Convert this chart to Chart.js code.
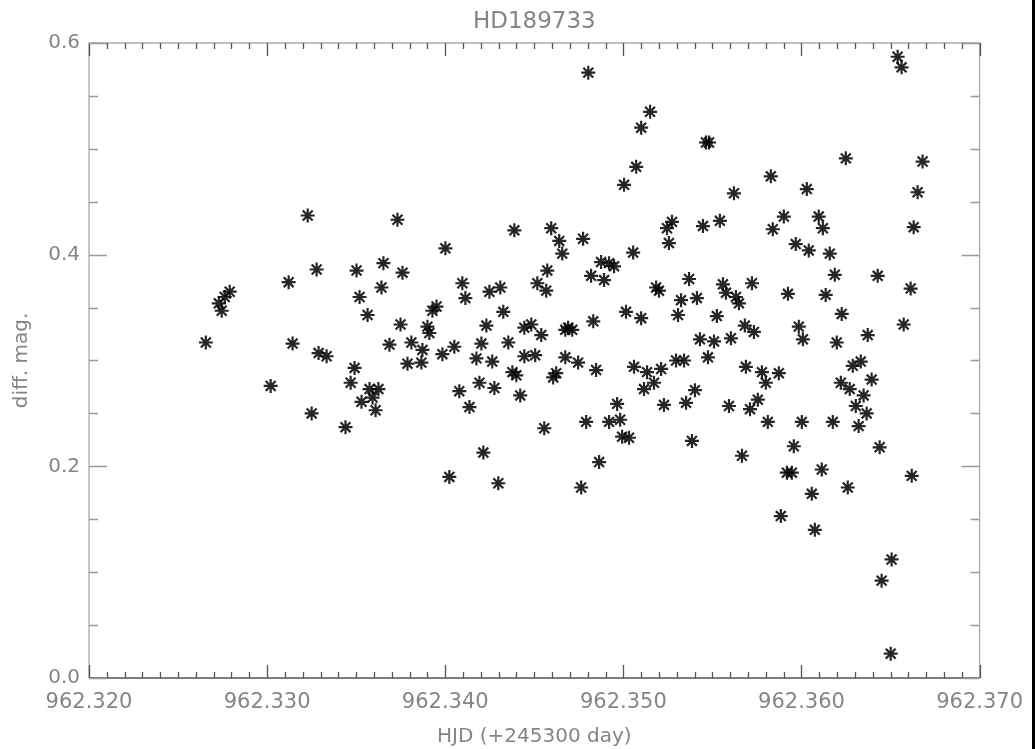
<!DOCTYPE html>
<html>
<head>
<meta charset="utf-8">
<script src="https://cdn.jsdelivr.net/npm/chart.js@4.4.0/dist/chart.umd.min.js"></script>
<style>
  html, body { margin: 0; padding: 0; background: #fff; }
  #wrap { width: 1035px; height: 749px; position: relative; }
</style>
</head>
<body>
<div id="wrap"><canvas id="lightCurve" width="1035" height="749"></canvas></div>
<script>
// HJD - 2453000 (day) and differential magnitude
const hjd = [
  962.32656, 962.32729, 962.32745, 962.32762, 962.32790, 962.33020, 962.33121, 962.33143, 962.33228, 962.33250,
  962.33278, 962.33289, 962.33334, 962.33440, 962.33469, 962.33491, 962.33502, 962.33519, 962.33530, 962.33564,
  962.33575, 962.33592, 962.33609, 962.33625, 962.33642, 962.33653, 962.33687, 962.33732, 962.33749, 962.33760,
  962.33788, 962.33810, 962.33866, 962.33872, 962.33900, 962.33911, 962.33928, 962.33951, 962.33984, 962.34001,
  962.34023, 962.34051, 962.34079, 962.34096, 962.34113, 962.34136, 962.34175, 962.34192, 962.34203, 962.34214,
  962.34231, 962.34248, 962.34264, 962.34276, 962.34298, 962.34309, 962.34326, 962.34354, 962.34377, 962.34399,
  962.34388, 962.34421, 962.34444, 962.34444, 962.34483, 962.34505, 962.34517, 962.34539, 962.34556, 962.34567,
  962.34573, 962.34595, 962.34606, 962.34623, 962.34640, 962.34657, 962.34674, 962.34690, 962.34713, 962.34674,
  962.34746, 962.34763, 962.34774, 962.34791, 962.34803, 962.34819, 962.34831, 962.34847, 962.34864, 962.34875,
  962.34892, 962.34920, 962.34948, 962.34920, 962.34965, 962.34982, 962.34993, 962.35032, 962.35004, 962.35015,
  962.35055, 962.35060, 962.35072, 962.35100, 962.35100, 962.35116, 962.35133, 962.35150, 962.35172, 962.35184,
  962.35200, 962.35212, 962.35228, 962.35245, 962.35256, 962.35273, 962.35296, 962.35307, 962.35324, 962.35341,
  962.35352, 962.35369, 962.35385, 962.35402, 962.35413, 962.35430, 962.35447, 962.35464, 962.35481, 962.35475,
  962.35509, 962.35525, 962.35542, 962.35559, 962.35576, 962.35593, 962.35604, 962.35621, 962.35632, 962.35649,
  962.35666, 962.35682, 962.35688, 962.35711, 962.35722, 962.35733, 962.35755, 962.35778, 962.35800, 962.35811,
  962.35828, 962.35839, 962.35873, 962.35884, 962.35901, 962.35918, 962.35946, 962.35924, 962.35957, 962.35968,
  962.35985, 962.36002, 962.36008, 962.36030, 962.36041, 962.36058, 962.36075, 962.36097, 962.36114, 962.36120,
  962.36136, 962.36159, 962.36176, 962.36187, 962.36198, 962.36221, 962.36226, 962.36249, 962.36260, 962.36271,
  962.36288, 962.36305, 962.36321, 962.36333, 962.36349, 962.36366, 962.36372, 962.36394, 962.36428, 962.36439,
  962.36450, 962.36501, 962.36506, 962.36540, 962.36562, 962.36574, 962.36613, 962.36619, 962.36630, 962.36652,
  962.36680
]
const diffMag = [
  0.317, 0.354, 0.347, 0.360, 0.365, 0.276, 0.374, 0.316, 0.437, 0.250,
  0.386, 0.307, 0.304, 0.237, 0.279, 0.293, 0.385, 0.360, 0.261, 0.343,
  0.273, 0.265, 0.253, 0.273, 0.369, 0.392, 0.315, 0.433, 0.334, 0.383,
  0.297, 0.317, 0.298, 0.310, 0.332, 0.326, 0.347, 0.351, 0.306, 0.406,
  0.190, 0.313, 0.271, 0.373, 0.359, 0.256, 0.302, 0.279, 0.316, 0.213,
  0.333, 0.365, 0.299, 0.274, 0.184, 0.369, 0.346, 0.317, 0.289, 0.286,
  0.423, 0.267, 0.331, 0.304, 0.334, 0.305, 0.373, 0.324, 0.236, 0.366,
  0.385, 0.425, 0.284, 0.288, 0.413, 0.401, 0.303, 0.331, 0.329, 0.329,
  0.298, 0.180, 0.415, 0.242, 0.572, 0.380, 0.337, 0.291, 0.204, 0.393,
  0.376, 0.392, 0.389, 0.242, 0.259, 0.244, 0.228, 0.227, 0.466, 0.346,
  0.402, 0.294, 0.483, 0.340, 0.520, 0.273, 0.289, 0.535, 0.279, 0.369,
  0.366, 0.292, 0.258, 0.425, 0.411, 0.431, 0.300, 0.343, 0.357, 0.300,
  0.260, 0.377, 0.224, 0.272, 0.359, 0.320, 0.427, 0.506, 0.506, 0.303,
  0.318, 0.342, 0.432, 0.372, 0.364, 0.257, 0.321, 0.458, 0.360, 0.354,
  0.210, 0.333, 0.294, 0.254, 0.373, 0.327, 0.263, 0.289, 0.279, 0.242,
  0.474, 0.424, 0.288, 0.153, 0.436, 0.194, 0.194, 0.363, 0.219, 0.410,
  0.332, 0.242, 0.320, 0.462, 0.404, 0.174, 0.140, 0.436, 0.197, 0.425,
  0.362, 0.401, 0.242, 0.381, 0.317, 0.279, 0.344, 0.491, 0.180, 0.273,
  0.295, 0.257, 0.238, 0.299, 0.267, 0.250, 0.324, 0.282, 0.380, 0.218,
  0.092, 0.023, 0.112, 0.587, 0.577, 0.334, 0.368, 0.191, 0.426, 0.459,
  0.488
]

const xRange = [962.320, 962.370]
const yRange = [0.0, 0.6]
const xStep = 0.01, xMinor = 0.001
const yStep = 0.2, yMinor = 0.05

const points = hjd.map((x, i) => ({ x: x, y: diffMag[i] }))

const textGray = '#858585'
const font = 'DejaVu Sans'

// IDL style box with inward ticks on all four sides
const idlFrame = {
    id: 'idlFrame',
    beforeDatasetsDraw(chart) {
        const ctx = chart.ctx
        const a = chart.chartArea
        const xs = chart.scales.x, ys = chart.scales.y
        ctx.save()
        ctx.lineWidth = 1.3

        ctx.strokeStyle = '#a8a8b8'
        ctx.beginPath()
        ctx.moveTo(a.left, a.bottom); ctx.lineTo(a.left, a.top); ctx.lineTo(a.right, a.top); ctx.lineTo(a.right, a.bottom)
        ctx.stroke()
        ctx.strokeStyle = '#555'
        ctx.beginPath()
        ctx.moveTo(a.left, a.bottom); ctx.lineTo(a.right, a.bottom)
        ctx.stroke()

        const nx = Math.round((xRange[1] - xRange[0]) / xMinor)
        const perMajorX = Math.round(xStep / xMinor)
        ctx.strokeStyle = '#555'
        for (let i = 0; i <= nx; i++) {
            const px = Math.round(xs.getPixelForValue(xRange[0] + i * xMinor)) + 0.5
            const len = i % perMajorX === 0 ? 13 : 6
            ctx.beginPath()
            ctx.moveTo(px, a.bottom); ctx.lineTo(px, a.bottom - len)
            ctx.moveTo(px, a.top); ctx.lineTo(px, a.top + len)
            ctx.stroke()
        }

        const ny = Math.round((yRange[1] - yRange[0]) / yMinor)
        const perMajorY = Math.round(yStep / yMinor)
        ctx.strokeStyle = '#999'
        for (let i = 0; i <= ny; i++) {
            const py = Math.round(ys.getPixelForValue(yRange[0] + i * yMinor)) + 0.5
            const len = i % perMajorY === 0 ? 18 : 9
            ctx.beginPath()
            ctx.moveTo(a.left, py); ctx.lineTo(a.left + len, py)
            ctx.moveTo(a.right, py); ctx.lineTo(a.right - len, py)
            ctx.stroke()
        }
        ctx.restore()
    },
    afterDraw(chart) {
        const ctx = chart.ctx
        const a = chart.chartArea
        ctx.save()
        ctx.fillStyle = textGray
        ctx.font = '23px "' + font + '"'
        ctx.textAlign = 'center'
        ctx.textBaseline = 'middle'
        ctx.fillText('HD189733', (a.left + a.right) / 2, 22)
        // dark edge on the right of the picture
        ctx.fillStyle = '#000'
        ctx.fillRect(chart.width - 3, 0, 3, chart.height)
        ctx.restore()
    }
}

const lightCurve = new Chart(document.getElementById('lightCurve'), {
    type: 'scatter',
    data: {
        datasets: [{
            label: 'HD189733',
            data: points,
            pointStyle: 'star',
            pointRadius: 7,
            pointBorderWidth: 2.2,
            borderColor: 'rgba(0,0,0,0.85)',
            backgroundColor: 'rgba(0,0,0,0.85)'
        }]
    },
    options: {
        responsive: false,
        animation: false,
        clip: false,
        layout: { padding: { top: 43, right: 54, left: 0, bottom: 0 } },
        plugins: {
            legend: { display: false },
            tooltip: { enabled: false }
        },
        scales: {
            x: {
                type: 'linear',
                min: xRange[0],
                max: xRange[1],
                afterFit: s => { s.height = 71 },
                grid: { display: false, drawTicks: false },
                border: { display: false },
                ticks: {
                    stepSize: xStep,
                    padding: 12,
                    color: textGray,
                    font: { family: font, size: 21 },
                    maxRotation: 0,
                    callback: v => v.toFixed(3)
                },
                title: {
                    display: true,
                    text: 'HJD (+245300 day)',
                    color: textGray,
                    font: { family: font, size: 20 },
                    padding: { top: 7, bottom: 0 }
                }
            },
            y: {
                min: yRange[0],
                max: yRange[1],
                afterFit: s => { s.width = 89 },
                grid: { display: false, drawTicks: false },
                border: { display: false },
                ticks: {
                    stepSize: yStep,
                    padding: 9,
                    color: textGray,
                    font: { family: font, size: 20 },
                    callback: v => v.toFixed(1)
                },
                title: {
                    display: true,
                    text: 'diff. mag.',
                    color: textGray,
                    font: { family: font, size: 20 },
                    padding: { top: 10, bottom: 0 }
                }
            }
        }
    },
    plugins: [idlFrame]
})
</script>
</body>
</html>
